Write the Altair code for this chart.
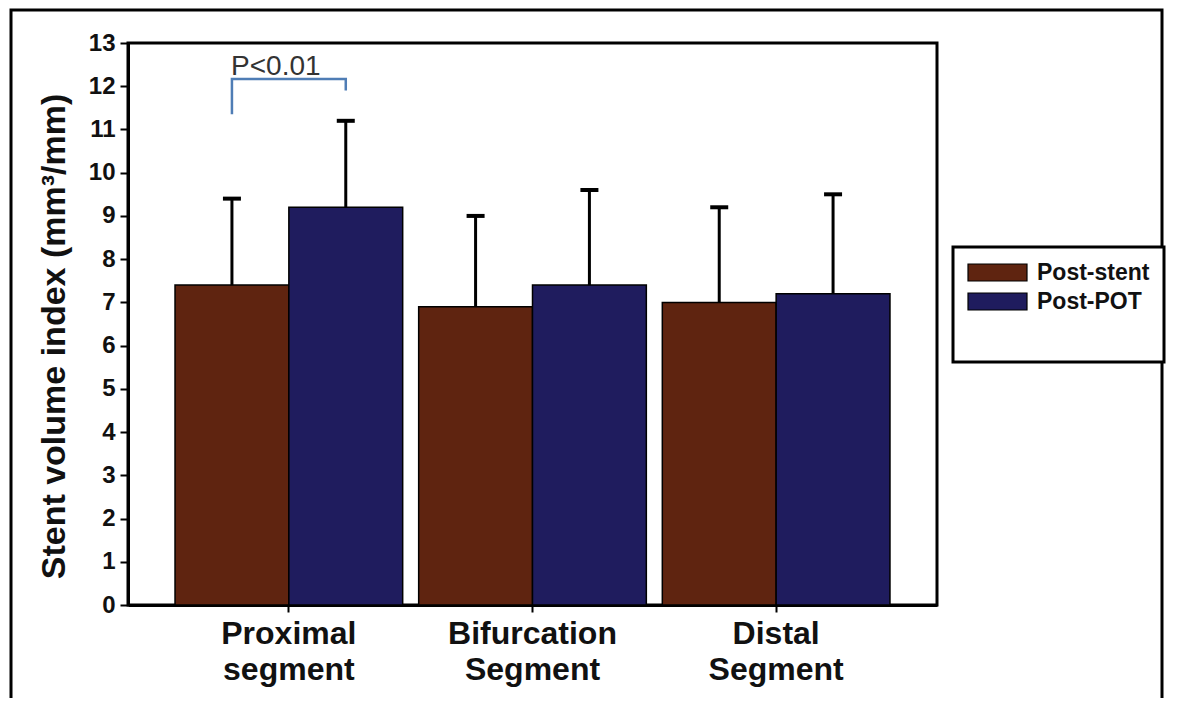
import altair as alt
import pandas as pd

# ---- data ----
categories = ["Proximal\nsegment", "Bifurcation\nSegment", "Distal\nSegment"]
series = ["Post-stent", "Post-POT"]
post_stent_mean = [7.4, 6.9, 7.0]
post_stent_upper = [9.4, 9.0, 9.2]
post_pot_mean = [9.2, 7.4, 7.2]
post_pot_upper = [11.2, 9.6, 9.5]
colors = ["#5f2410", "#1f1c5e"]

# significance bracket (Proximal segment)
bracket_series = ["Post-stent", "Post-stent", "Post-POT", "Post-POT"]
bracket_y = [11.35, 12.17, 12.17, 11.9]
p_label = "P<0.01"
p_label_y = 12.25

rows = []
for i, c in enumerate(categories):
    rows.append({"cat": c, "series": series[0], "mean": post_stent_mean[i], "upper": post_stent_upper[i]})
    rows.append({"cat": c, "series": series[1], "mean": post_pot_mean[i], "upper": post_pot_upper[i]})
df = pd.DataFrame(rows)

br = pd.DataFrame({"cat": [categories[0]] * 4, "series": bracket_series,
                   "y": bracket_y, "order": list(range(4))})
pt = pd.DataFrame({"cat": [categories[0]], "y": [p_label_y], "label": [p_label]})
frame_df = pd.DataFrame({"a": [0]})

W, H = 809, 562
FONT = "Liberation Sans"

xscale = alt.Scale(domain=categories, paddingInner=0.0656, paddingOuter=0.193)
xoff = alt.XOffset("series:N", scale=alt.Scale(domain=series, paddingInner=0, paddingOuter=0))
yscale = alt.Scale(domain=[0, 13], nice=False, zero=True)

xaxis = alt.Axis(
    title=None, labelAngle=0, labelFont=FONT, labelFontWeight="bold", labelFontSize=32,
    labelColor="#111", labelExpr="split(datum.label, '\\n')", labelLineHeight=36,
    labelPadding=6, tickSize=7, tickWidth=2, tickColor="black",
    domainColor="black", domainWidth=3, labelBaseline="top",
)
yaxis = alt.Axis(
    title="Stent volume index (mm³/mm)", values=list(range(0, 14)),
    labelFont=FONT, labelFontWeight="bold", labelFontSize=24, labelColor="#111",
    labelPadding=5, tickSize=8, tickWidth=2, tickColor="black",
    domainColor="black", domainWidth=3, grid=False,
    titleFont=FONT, titleFontWeight="bold", titleFontSize=34, titleColor="#111",
    titleX=-57, titleY=293,
)

base = alt.Chart(df)

bars = base.mark_bar(stroke="black", strokeWidth=1.5).encode(
    x=alt.X("cat:N", scale=xscale, axis=xaxis, sort=categories),
    xOffset=xoff,
    y=alt.Y("mean:Q", scale=yscale, axis=yaxis),
    color=alt.Color(
        "series:N",
        scale=alt.Scale(domain=series, range=colors),
        legend=alt.Legend(
            title=" ", titleOrient="bottom", titleFontSize=20, titlePadding=14,
            orient="none", legendX=825, legendY=204,
            strokeColor="black", fillColor="white", padding=14,
            symbolType="M-3.47,-1L3.47,-1L3.47,1L-3.47,1Z", symbolSize=289,
            symbolOffset=19,
            symbolStrokeColor="black", symbolStrokeWidth=1.2, symbolOpacity=1,
            labelFont=FONT, labelFontWeight="bold", labelFontSize=23, labelColor="#111",
            labelOffset=28, rowPadding=5,
        ),
    ),
)

err = base.mark_rule(color="black", strokeWidth=3).encode(
    x=alt.X("cat:N", scale=xscale, sort=categories),
    xOffset=xoff,
    y=alt.Y("mean:Q", scale=yscale),
    y2="upper:Q",
)

caps = base.mark_tick(color="black", thickness=4, size=18, opacity=1).encode(
    x=alt.X("cat:N", scale=xscale, sort=categories),
    xOffset=xoff,
    y=alt.Y("upper:Q", scale=yscale),
)

bracket = alt.Chart(br).mark_line(color="#4f7db5", strokeWidth=2.5).encode(
    x=alt.X("cat:N", scale=xscale, sort=categories),
    xOffset=xoff,
    y=alt.Y("y:Q", scale=yscale),
    order="order:Q",
)

ptext = alt.Chart(pt).mark_text(
    font=FONT, fontSize=28, color="#333", baseline="alphabetic", align="center", dx=-13
).encode(
    x=alt.X("cat:N", scale=xscale, sort=categories),
    y=alt.Y("y:Q", scale=yscale),
    text="label:N",
)

outer = alt.Chart(frame_df).mark_rect(fill=None, stroke="black", strokeWidth=3).encode(
    x=alt.value(-117), x2=alt.value(1034), y=alt.value(-33), y2=alt.value(700)
)

chart = alt.layer(outer, bars, err, caps, bracket, ptext).properties(
    width=W, height=H,
    autosize="none",
    padding={"left": 120, "top": 35, "right": 235, "bottom": 93},
    background="white",
).configure_view(stroke="black", strokeWidth=3).configure_legend(strokeWidth=3)

chart.save("out.html", embed_options={"renderer": "svg", "actions": False})
